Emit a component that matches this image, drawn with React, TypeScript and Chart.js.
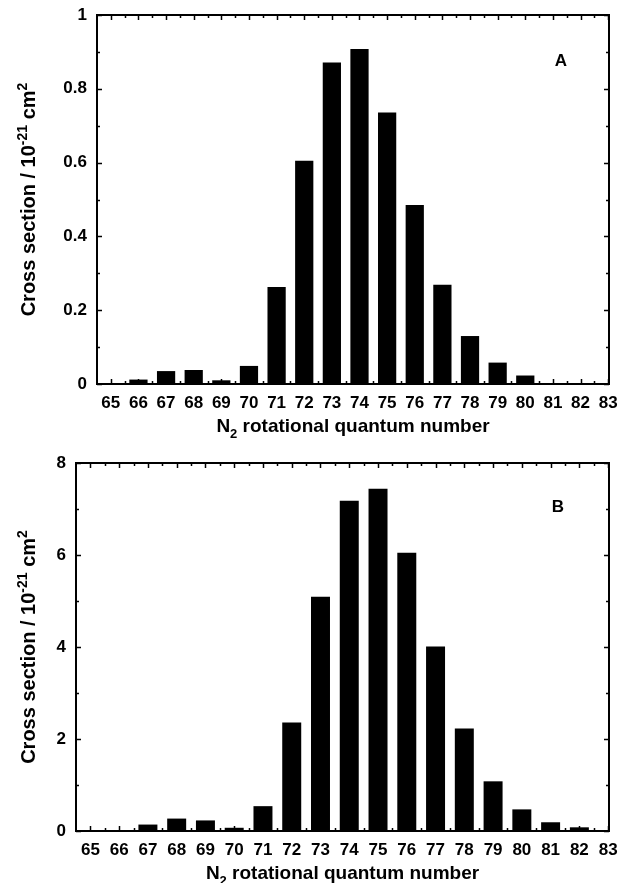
import React, { useEffect, useRef } from 'react';
import { Chart, registerables } from 'chart.js';

Chart.register(...registerables);

// ---- Data ----
const QUANTUM_NUMBERS = [65, 66, 67, 68, 69, 70, 71, 72, 73, 74, 75, 76, 77, 78, 79, 80, 81, 82, 83];
const X_TICKS = [65, 66, 67, 68, 69, 70, 71, 72, 73, 74, 75, 76, 77, 78, 79, 80, 81, 82, 83];

const CROSS_SECTION_A = [0, 0.012, 0.035, 0.038, 0.01, 0.049, 0.263, 0.605, 0.871, 0.908, 0.736, 0.485, 0.269, 0.13, 0.058, 0.023, 0, 0, 0];
const CROSS_SECTION_B = [0, 0.02, 0.14, 0.27, 0.23, 0.07, 0.54, 2.36, 5.09, 7.18, 7.44, 6.05, 4.01, 2.23, 1.08, 0.47, 0.19, 0.08, 0];

const Y_TICKS_A = [0, 0.2, 0.4, 0.6, 0.8, 1];
const Y_TICKS_B = [0, 2, 4, 6, 8];

const PANEL_A = 'A';
const PANEL_B = 'B';

const X_TITLE_RUNS = [
  { text: 'N', mode: 'normal' },
  { text: '2', mode: 'sub' },
  { text: ' rotational quantum number', mode: 'normal' },
];
const Y_TITLE_RUNS = [
  { text: 'Cross section / 10', mode: 'normal' },
  { text: '-21', mode: 'sup' },
  { text: ' cm', mode: 'normal' },
  { text: '2', mode: 'sup' },
];

const FONT_FAMILY = '"Liberation Sans", Arial, Helvetica, sans-serif';

type Run = { text: string; mode: string };

function runFont(mode: string, size: number) {
  const s = mode === 'normal' ? size : Math.round(size * 0.68);
  return `bold ${s}px ${FONT_FAMILY}`;
}

function measureRuns(ctx: CanvasRenderingContext2D, runs: Run[], size: number) {
  let w = 0;
  for (const r of runs) {
    ctx.font = runFont(r.mode, size);
    w += ctx.measureText(r.text).width;
  }
  return w;
}

function drawRuns(ctx: CanvasRenderingContext2D, runs: Run[], cx: number, baseline: number, size: number) {
  const total = measureRuns(ctx, runs, size);
  let x = cx - total / 2;
  ctx.textAlign = 'left';
  ctx.textBaseline = 'alphabetic';
  for (const r of runs) {
    ctx.font = runFont(r.mode, size);
    let dy = 0;
    if (r.mode === 'sup') dy = -size * 0.42;
    if (r.mode === 'sub') dy = size * 0.3;
    ctx.fillText(r.text, x, baseline + dy);
    x += ctx.measureText(r.text).width;
  }
}

function midpoints(vals: number[]) {
  const out: number[] = [];
  for (let i = 0; i < vals.length - 1; i++) out.push((vals[i] + vals[i + 1]) / 2);
  return out;
}

const decorPlugin = {
  id: 'decor',
  afterDraw(chart: any, _args: any, opts: any) {
    const { ctx, chartArea } = chart;
    const { left, right, top, bottom } = chartArea;
    const xs = chart.scales.x;
    const ys = chart.scales.y;
    ctx.save();
    ctx.strokeStyle = '#000';
    ctx.fillStyle = '#000';

    // inward ticks
    ctx.lineWidth = 1.5;
    const xMajor = opts.xTicks as number[];
    const xMinor = midpoints(xMajor);
    const yMajor = opts.yTicks as number[];
    const yMinor = midpoints(yMajor);
    const drawX = (v: number, len: number) => {
      const p = Math.round(xs.getPixelForValue(v)) + 0.5;
      ctx.beginPath();
      ctx.moveTo(p, bottom);
      ctx.lineTo(p, bottom - len);
      ctx.moveTo(p, top);
      ctx.lineTo(p, top + len);
      ctx.stroke();
    };
    const drawY = (v: number, len: number) => {
      const p = Math.round(ys.getPixelForValue(v)) + 0.5;
      ctx.beginPath();
      ctx.moveTo(left, p);
      ctx.lineTo(left + len, p);
      ctx.moveTo(right, p);
      ctx.lineTo(right - len, p);
      ctx.stroke();
    };
    xMajor.forEach((v) => drawX(v, 5));
    xMinor.forEach((v) => drawX(v, 3));
    yMajor.forEach((v) => drawY(v, 5));
    yMinor.forEach((v) => drawY(v, 3));

    // frame
    ctx.lineWidth = 2;
    ctx.strokeRect(left, top, right - left, bottom - top);

    // panel letter
    ctx.font = `bold 17px ${FONT_FAMILY}`;
    ctx.textAlign = 'center';
    ctx.textBaseline = 'middle';
    ctx.fillText(opts.panel, right - opts.panelDx, top + opts.panelDy);

    // x title
    drawRuns(ctx, X_TITLE_RUNS, (left + right) / 2, bottom + 48, 19);

    // y title (rotated)
    ctx.save();
    ctx.translate(35, (top + bottom) / 2);
    ctx.rotate(-Math.PI / 2);
    drawRuns(ctx, Y_TITLE_RUNS, 0, 0, 20);
    ctx.restore();

    ctx.restore();
  },
};

type PanelProps = {
  values: number[];
  yTicks: number[];
  panel: string;
  height: number;
  padTop: number;
  yWidth: number;
  xHeight: number;
  panelDx: number;
  panelDy: number;
};

function Panel(props: PanelProps) {
  const ref = useRef<HTMLCanvasElement | null>(null);
  useEffect(() => {
    const canvas = ref.current;
    if (!canvas) return;
    const tickFont = { family: FONT_FAMILY, size: 17, weight: 'bold' as const };
    const yMax = props.yTicks[props.yTicks.length - 1];
    const chart = new Chart(canvas, {
      type: 'bar',
      data: {
        datasets: [
          {
            data: QUANTUM_NUMBERS.map((q, i) => ({ x: q, y: props.values[i] })),
            backgroundColor: '#000',
            borderWidth: 0,
            barPercentage: 0.66,
            categoryPercentage: 1,
          },
        ],
      },
      options: {
        responsive: false,
        animation: false,
        devicePixelRatio: 1,
        layout: { padding: { top: props.padTop, right: 14, left: 0, bottom: 0 } },
        plugins: {
          legend: { display: false },
          tooltip: { enabled: false },
          decor: {
            xTicks: X_TICKS,
            yTicks: props.yTicks,
            panel: props.panel,
            panelDx: props.panelDx,
            panelDy: props.panelDy,
          },
        } as any,
        scales: {
          x: {
            type: 'linear',
            min: 64.5,
            max: 83.03,
            offset: false,
            grid: { display: false, drawTicks: false, offset: false },
            border: { display: false },
            ticks: {
              font: tickFont,
              color: '#000',
              padding: 9,
              autoSkip: false,
              maxRotation: 0,
              minRotation: 0,
              callback: (v: any) => String(v),
            },
            afterBuildTicks: (axis: any) => {
              axis.ticks = X_TICKS.map((v) => ({ value: v }));
            },
            afterFit: (s: any) => {
              s.height = props.xHeight;
              s.paddingLeft = 0;
              s.paddingRight = 0;
              s.paddingTop = 0;
              s.paddingBottom = 0;
            },
          },
          y: {
            type: 'linear',
            min: 0,
            max: yMax,
            grid: { display: false, drawTicks: false },
            border: { display: false },
            ticks: {
              font: tickFont,
              color: '#000',
              padding: 10,
              callback: (v: any) => String(v),
            },
            afterBuildTicks: (axis: any) => {
              axis.ticks = props.yTicks.map((v) => ({ value: v }));
            },
            afterFit: (s: any) => {
              s.width = props.yWidth;
              s.paddingLeft = 0;
              s.paddingRight = 0;
              s.paddingTop = 0;
              s.paddingBottom = 0;
            },
          },
        } as any,
      },
      plugins: [decorPlugin as any],
    });
    return () => chart.destroy();
  }, []);
  return <canvas ref={ref} width={623} height={props.height} style={{ display: 'block', width: 623, height: props.height }} />;
}

export default function App() {
  return (
    <div style={{ position: 'absolute', left: 0, top: 0, width: 623, height: 883, background: '#fff' }}>
      <Panel
        values={CROSS_SECTION_A}
        yTicks={Y_TICKS_A}
        panel={PANEL_A}
        height={440}
        padTop={15}
        yWidth={97}
        xHeight={56}
        panelDx={48}
        panelDy={46}
      />
      <Panel
        values={CROSS_SECTION_B}
        yTicks={Y_TICKS_B}
        panel={PANEL_B}
        height={443}
        padTop={23}
        yWidth={76}
        xHeight={52}
        panelDx={51}
        panelDy={44}
      />
    </div>
  );
}
